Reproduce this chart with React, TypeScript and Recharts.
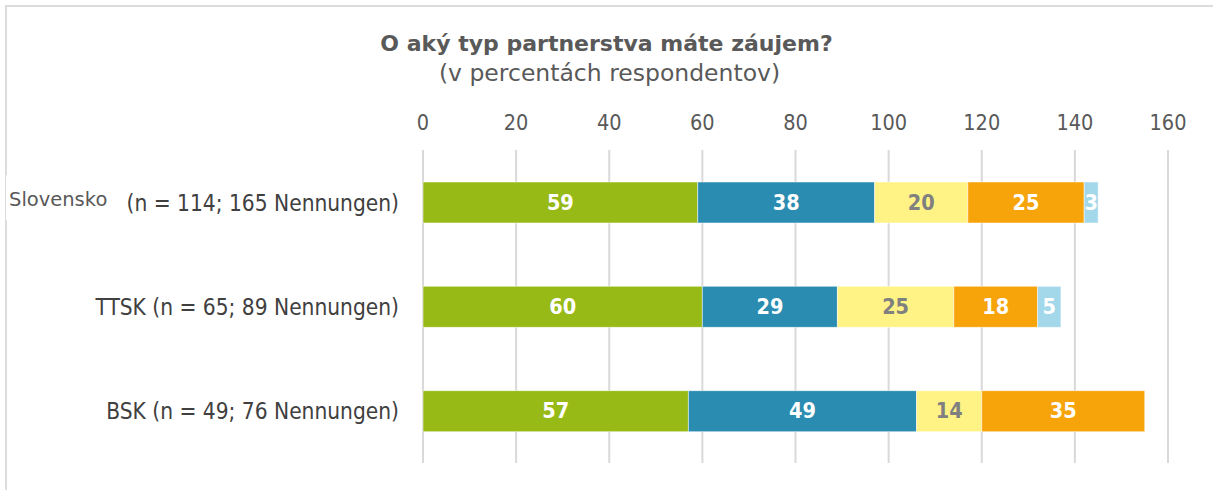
import React from "react";
import { BarChart, Bar, XAxis, YAxis, CartesianGrid, LabelList } from "recharts";

const categories = ["Slovensko (n = 114; 165 Nennungen)", "TTSK (n = 65; 89 Nennungen)", "BSK (n = 49; 76 Nennungen)"];
const seriesA = [59, 60, 57];
const seriesB = [38, 29, 49];
const seriesC = [20, 25, 14];
const seriesD = [25, 18, 35];
const seriesE = [3, 5, 0];
const xTicks = [0, 20, 40, 60, 80, 100, 120, 140, 160];

const data = categories.map((c, i) => ({
  name: c,
  a: seriesA[i],
  b: seriesB[i],
  c: seriesC[i],
  d: seriesD[i],
  e: seriesE[i],
}));

const FONT = "'DejaVu Sans Condensed', 'DejaVu Sans', sans-serif";
const WIDE = "'DejaVu Sans', sans-serif";

const YTick = (props: any) => {
  const { y, payload } = props;
  const v: string = payload.value;
  if (v.startsWith("Slovensko")) {
    const rest = v.slice("Slovensko".length).trim();
    return (
      <g>
        <rect x={6} y={y - 27} width={120} height={45} fill="#ffffff" />
        <text x={9} y={y - 2} dominantBaseline="middle" fontFamily={WIDE} fontSize={19.5} fill="#595959">
          Slovensko
        </text>
        <text x={399} y={y + 2} textAnchor="end" dominantBaseline="middle" fontFamily={FONT} fontSize={22.5} fill="#404040">
          {rest}
        </text>
      </g>
    );
  }
  return (
    <text x={399} y={y + 2} textAnchor="end" dominantBaseline="middle" fontFamily={FONT} fontSize={22.5} fill="#404040">
      {v}
    </text>
  );
};

const XTick = (props: any) => {
  const { x, payload } = props;
  return (
    <text x={x} y={124} textAnchor="middle" dominantBaseline="middle" fontFamily={FONT} fontSize={21.5} fill="#595959">
      {payload.value}
    </text>
  );
};

const mkLabel = (color: string) => (props: any) => {
  const { x, y, width, height, value } = props;
  if (!value) return null;
  return (
    <text
      x={x + width / 2}
      y={y + height / 2 + 1}
      textAnchor="middle"
      dominantBaseline="middle"
      fontFamily={FONT}
      fontWeight="bold"
      fontSize={21.5}
      fill={color}
    >
      {value}
    </text>
  );
};

export default function App() {
  return (
    <div style={{ position: "absolute", left: 0, top: 0, width: 1213, height: 490, background: "#fff", overflow: "hidden" }}>
      <div
        style={{
          position: "absolute",
          left: 5,
          top: 5,
          width: 1220,
          height: 500,
          borderTop: "2px solid #dcdcdc",
          borderLeft: "2px solid #dcdcdc",
        }}
      />
      <div
        style={{
          position: "absolute",
          left: 0,
          top: 31,
          width: 1213,
          textAlign: "center",
          fontFamily: WIDE,
          fontWeight: "bold",
          fontSize: 22,
          color: "#595959",
        }}
      >
        O aký typ partnerstva máte záujem?
      </div>
      <div
        style={{
          position: "absolute",
          left: 3,
          top: 59,
          width: 1213,
          textAlign: "center",
          fontFamily: WIDE,
          fontSize: 23.5,
          color: "#595959",
        }}
      >
        (v percentách respondentov)
      </div>
      <div style={{ position: "absolute", left: 0, top: 0 }}>
        <BarChart
          width={1213}
          height={490}
          data={data}
          layout="vertical"
          margin={{ top: 110, right: 45, bottom: 27, left: 0 }}
          barSize={41}
        >
          <CartesianGrid horizontal={false} vertical={true} stroke="#d9d9d9" strokeWidth={2} />
          <XAxis
            type="number"
            orientation="top"
            domain={[0, 160]}
            ticks={xTicks}
            axisLine={false}
            tickLine={false}
            height={40}
            tick={<XTick />}
            interval={0}
          />
          <YAxis
            type="category"
            dataKey="name"
            width={423}
            axisLine={false}
            tickLine={false}
            tick={<YTick />}
            interval={0}
          />
          <Bar dataKey="a" stackId="s" fill="#97BA17" stroke="#ffffff" strokeWidth={0.5} isAnimationActive={false}>
            <LabelList dataKey="a" content={mkLabel("#ffffff")} />
          </Bar>
          <Bar dataKey="b" stackId="s" fill="#2A8CB0" stroke="#ffffff" strokeWidth={0.5} isAnimationActive={false}>
            <LabelList dataKey="b" content={mkLabel("#ffffff")} />
          </Bar>
          <Bar dataKey="c" stackId="s" fill="#FFF385" stroke="#ffffff" strokeWidth={0.5} isAnimationActive={false}>
            <LabelList dataKey="c" content={mkLabel("#808080")} />
          </Bar>
          <Bar dataKey="d" stackId="s" fill="#F7A30A" stroke="#ffffff" strokeWidth={0.5} isAnimationActive={false}>
            <LabelList dataKey="d" content={mkLabel("#ffffff")} />
          </Bar>
          <Bar dataKey="e" stackId="s" fill="#A3D7EA" stroke="#ffffff" strokeWidth={0.5} isAnimationActive={false}>
            <LabelList dataKey="e" content={mkLabel("#ffffff")} />
          </Bar>
        </BarChart>
      </div>
    </div>
  );
}
